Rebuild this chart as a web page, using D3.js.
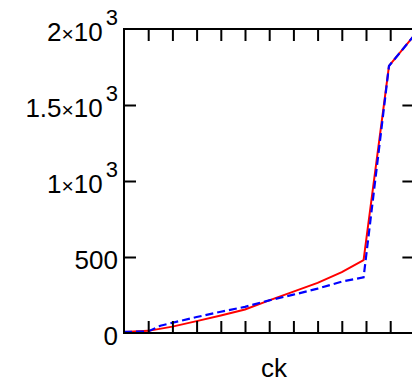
<!DOCTYPE html>
<html>
<head>
<meta charset="utf-8">
<script src="https://cdn.jsdelivr.net/npm/d3@7"></script>
<style>
  body { margin: 0; background: #fff; }
  svg { display: block; font-family: "Liberation Sans", Arial, sans-serif; }
</style>
</head>
<body>
<div class="container"></div>
<script>
// x positions (in tick units) where both series have points
const xValues = [0, 1, 2, 3, 4, 5, 6, 7, 8, 9, 9.9, 10.95, 12];
// red solid series
const redValues = [7, 14, 42, 78, 115, 155, 215, 272, 330, 400, 480, 1757, 1960];
// blue dashed series
const blueX = [0, 1, 1.5, 3, 4, 5, 6, 7, 8, 9, 9.9, 10.95, 12];
const blueValues = [7, 10, 48, 105, 140, 172, 215, 252, 292, 338, 366, 1757, 1960];
// y tick values and their labels (mantissa, exponent)
const yTicks = [0, 500, 1000, 1500, 2000];
const yLabels = [["0", null], ["500", null], ["1", "3"], ["1.5", "3"], ["2", "3"]];
const xTicks = [1, 2, 3, 4, 5, 6, 7, 8, 9, 10, 11];
const xTitle = "ck";

const W = 412, H = 383;
const plotLeft = 124, plotRight = 414.4, plotTop = 29, plotBottom = 333;
const tickLen = 12;

const svg = d3.select(".container")
  .append("svg")
  .attr("width", W)
  .attr("height", H);

const xScale = d3.scaleLinear().domain([0, 12]).range([plotLeft, plotRight]);
const yScale = d3.scaleLinear().domain([0, 2000]).range([plotBottom, plotTop]);

// clip the lines to the frame
svg.append("clipPath").attr("id", "plot")
  .append("rect")
  .attr("x", plotLeft).attr("y", plotTop)
  .attr("width", plotRight - plotLeft).attr("height", plotBottom - plotTop);

const line = d3.line()
  .x(d => xScale(d[0]))
  .y(d => yScale(d[1]));

svg.append("path")
  .datum(d3.zip(xValues, redValues))
  .attr("clip-path", "url(#plot)")
  .attr("fill", "none")
  .attr("stroke", "#ff0000")
  .attr("stroke-width", 2)
  .attr("d", line);

svg.append("path")
  .datum(d3.zip(blueX, blueValues))
  .attr("clip-path", "url(#plot)")
  .attr("fill", "none")
  .attr("stroke", "#0000ff")
  .attr("stroke-width", 2.2)
  .attr("stroke-dasharray", "8,4")
  .attr("d", line);

// axes with inward ticks, no d3 labels
const axisStyle = g => {
  g.select(".domain").remove();
  g.selectAll("line").attr("stroke", "#000").attr("stroke-width", 2);
  g.selectAll("text").remove();
};

svg.append("g")
  .attr("transform", `translate(0,${plotBottom})`)
  .call(d3.axisTop(xScale).tickValues(xTicks).tickSize(tickLen))
  .call(axisStyle);

svg.append("g")
  .attr("transform", `translate(0,${plotTop})`)
  .call(d3.axisBottom(xScale).tickValues(xTicks).tickSize(tickLen))
  .call(axisStyle);

svg.append("g")
  .attr("transform", `translate(${plotLeft},0)`)
  .call(d3.axisRight(yScale).tickValues(yTicks.slice(1, -1)).tickSize(tickLen))
  .call(axisStyle);

svg.append("g")
  .attr("transform", `translate(${plotRight},0)`)
  .call(d3.axisLeft(yScale).tickValues(yTicks.slice(1, -1)).tickSize(tickLen))
  .call(axisStyle);

// frame
svg.append("rect")
  .attr("x", plotLeft).attr("y", plotTop)
  .attr("width", plotRight - plotLeft).attr("height", plotBottom - plotTop)
  .attr("fill", "none")
  .attr("stroke", "#000")
  .attr("stroke-width", 2);

// y labels with superscript exponents
yTicks.forEach((v, i) => {
  const [m, e] = yLabels[i];
  const t = svg.append("text")
    .attr("x", 118)
    .attr("y", yScale(v) + 12)
    .attr("text-anchor", "end")
    .attr("font-size", 26)
    .attr("fill", "#000");
  if (e === null) {
    t.text(m);
  } else {
    t.append("tspan").text(m);
    t.append("tspan").attr("font-size", 21).text("\u00d7");
    t.append("tspan").text("10");
    t.append("tspan").attr("font-size", 22).attr("dx", 3).attr("dy", -16).text(e);
  }
});

// x title
svg.append("text")
  .attr("x", 274)
  .attr("y", 377)
  .attr("text-anchor", "middle")
  .attr("font-size", 26)
  .attr("fill", "#000")
  .text(xTitle);
</script>
</body>
</html>
